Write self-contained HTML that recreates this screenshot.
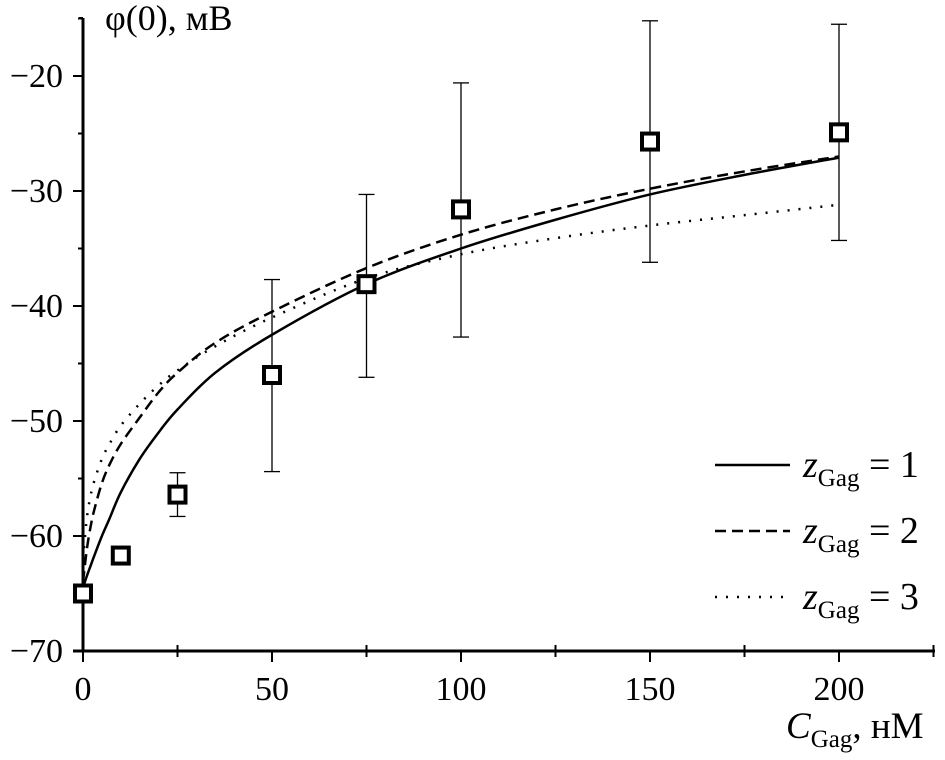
<!DOCTYPE html>
<html><head><meta charset="utf-8"><style>
body{margin:0;background:#fff}
svg text{font-family:"Liberation Serif",serif;fill:#000}
</style></head><body>
<svg width="945" height="755" id="c">
<g id="axes"></g>
<g id="curves"></g>
<g id="pts"></g>
<text x="105" y="30" font-size="36">φ(0), мВ</text>
<text x="786" y="738" font-size="37"><tspan font-style="italic">C</tspan><tspan font-size="25" dy="9">Gag</tspan><tspan dy="-9">, нМ</tspan></text>
<g>
<line x1="715" y1="465" x2="790" y2="465" stroke="#000" stroke-width="2.5"/>
<line x1="715" y1="531" x2="790" y2="531" stroke="#000" stroke-width="2.5" stroke-dasharray="11,6"/>
<line x1="715" y1="597" x2="790" y2="597" stroke="#000" stroke-width="2.5" stroke-dasharray="2,9"/>
<text x="803" y="477" font-size="38"><tspan font-style="italic">z</tspan><tspan font-size="25" dy="9">Gag</tspan><tspan dy="-9"> = 1</tspan></text>
<text x="803" y="543" font-size="38"><tspan font-style="italic">z</tspan><tspan font-size="25" dy="9">Gag</tspan><tspan dy="-9"> = 2</tspan></text>
<text x="803" y="609" font-size="38"><tspan font-style="italic">z</tspan><tspan font-size="25" dy="9">Gag</tspan><tspan dy="-9"> = 3</tspan></text>
</g>
</svg>
<script>
const xs=[0,10,25,50,75,100,150,200];
const ys=[-65,-61.7,-56.4,-46,-38.1,-31.6,-25.7,-24.9];
const errLo=[-65,-61.7,-58.3,-54.4,-46.2,-42.7,-36.2,-34.3];
const errHi=[-65,-61.7,-54.5,-37.7,-30.3,-20.6,-15.2,-15.5];
const curveX=[0,1,2,3,5,7,10,15,20,25,35,50,75,100,125,150,175,200];
const curve1=[-64.5,-63.5,-62.6,-61.7,-60,-58.5,-56.2,-53.3,-51,-49,-45.8,-42.5,-38.1,-35,-32.5,-30.3,-28.6,-27.1];
const curve2=[-64,-61.2,-59.2,-57.7,-55.4,-53.8,-52,-49.7,-47.5,-45.8,-43.2,-40.5,-36.7,-33.8,-31.6,-29.8,-28.3,-27];
const curve3=[-62,-58.5,-56.5,-55.2,-53.3,-52,-50.4,-48.5,-46.9,-45.6,-43.5,-41,-37.6,-35.5,-34.1,-33,-32.1,-31.2];
const xTicks=[0,50,100,150,200];
const yTicks=[-70,-60,-50,-40,-30,-20];
const NS="http://www.w3.org/2000/svg";
const X=v=>83+v*3.78, Y=v=>651-(v+70)*11.5;
function mk(p,t,a){const e=document.createElementNS(NS,t);for(const k in a)e.setAttribute(k,a[k]);p.appendChild(e);return e;}
const ax=document.getElementById('axes');
let l=mk(ax,'line',{x1:83,y1:18,x2:83,y2:652,stroke:'#000','stroke-width':3});


l=mk(ax,'line',{x1:73,y1:651,x2:935,y2:651,stroke:'#000','stroke-width':3});


mk(ax,'line',{x1:79,y1:18,x2:83,y2:18,stroke:'#000','stroke-width':2});
yTicks.forEach(v=>{mk(ax,'line',{x1:73,y1:Y(v),x2:83,y2:Y(v),stroke:'#000','stroke-width':2});
 mk(ax,'line',{x1:78,y1:Y(v+5),x2:83,y2:Y(v+5),stroke:'#000','stroke-width':2});
 const t=mk(ax,'text',{x:63,y:Y(v)+11,'font-size':34,'text-anchor':'end'});t.textContent='\u2212'+Math.abs(v);
 
 });
xTicks.forEach(v=>{mk(ax,'line',{x1:X(v),y1:651,x2:X(v),y2:662,stroke:'#000','stroke-width':2});
 mk(ax,'line',{x1:X(v+25),y1:645,x2:X(v+25),y2:657,stroke:'#000','stroke-width':2});
 const t=mk(ax,'text',{x:X(v),y:700,'font-size':34,'text-anchor':'middle'});t.textContent=v;
 
 });
function smooth(P){let d='M'+P[0][0]+','+P[0][1];
 for(let i=0;i<P.length-1;i++){const p0=P[Math.max(0,i-1)],p1=P[i],p2=P[i+1],p3=P[Math.min(P.length-1,i+2)];
  d+=' C'+(p1[0]+(p2[0]-p0[0])/6)+','+(p1[1]+(p2[1]-p0[1])/6)+' '+(p2[0]-(p3[0]-p1[0])/6)+','+(p2[1]-(p3[1]-p1[1])/6)+' '+p2[0]+','+p2[1];}
 return d;}
const cv=document.getElementById('curves');
[[curve1,''],[curve2,'11,6'],[curve3,'2,9']].forEach((c,i)=>{
 const P=curveX.map((x,j)=>[X(x),Y(c[0][j])]);
 const p=mk(cv,'path',{d:smooth(P),fill:'none',stroke:'#000','stroke-width':2.5,'stroke-dasharray':c[1]||'none'});
 
 });
const pg=document.getElementById('pts');
xs.forEach((x,i)=>{const cx=X(x);
 if(errHi[i]!==errLo[i]){mk(pg,'line',{x1:cx,y1:Y(errHi[i]),x2:cx,y2:Y(errLo[i]),stroke:'#000','stroke-width':1.3});
  [errHi[i],errLo[i]].forEach(e=>mk(pg,'line',{x1:cx-8,y1:Y(e),x2:cx+8,y2:Y(e),stroke:'#000','stroke-width':1.3}));}
 const r=mk(pg,'rect',{x:cx-8,y:Y(ys[i])-8,width:16,height:16,fill:'#fff',stroke:'#000','stroke-width':4});
 
 });
</script>
</body></html>
